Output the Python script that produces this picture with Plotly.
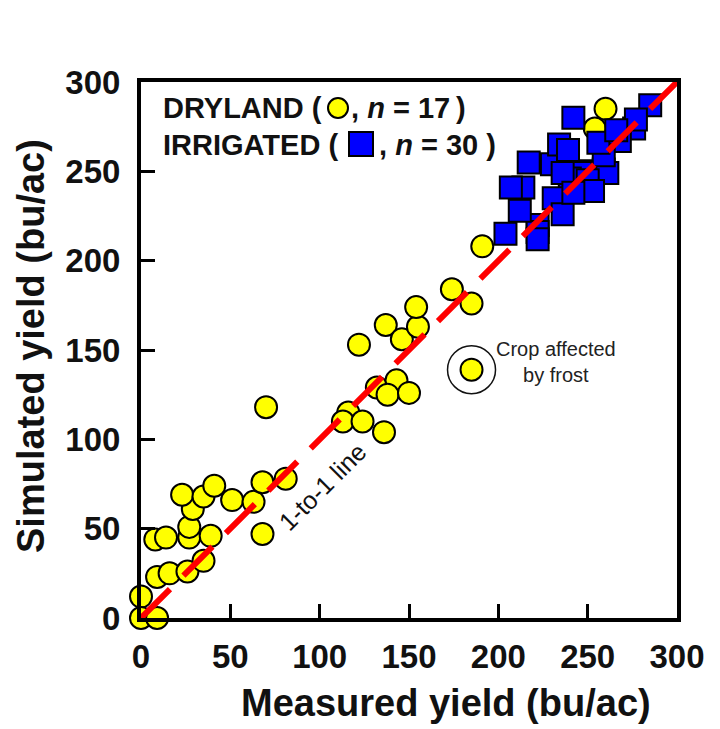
import plotly.graph_objects as go

# Values (bu/ac)
dry_measured = [0, 0, 9, 9, 16, 26, 35, 8, 14, 27, 39, 27, 29, 23, 35, 41, 51, 63, 68, 81, 68, 70,
                116, 113, 124, 136, 122, 137, 146, 155, 154, 174, 185, 132, 143, 138, 150, 191, 260, 254]
dry_simulated = [12, 0, 0, 23, 25, 26, 32, 44, 45, 45, 46, 51, 61, 69, 68, 74, 66, 65, 76, 78, 47, 118,
                 115, 110, 110, 104, 153, 164, 156, 163, 174, 184, 176, 129, 133, 125, 126, 208, 285, 274]
frost_measured = [185]
frost_simulated = [139]
# listed back to front, the squares that are hidden most come first
irr_measured = [276, 268, 230, 234, 250, 259, 246, 261, 214, 222, 222, 240, 250,
                285, 277, 204, 222, 212, 207, 217, 242, 239, 236, 231, 236, 253, 242, 259, 256, 266]
irr_simulated = [274, 267, 254, 265, 250, 251, 249, 249, 241, 220, 216, 246, 245,
                 287, 279, 215, 212, 228, 241, 255, 280, 262, 249, 235, 226, 239, 238, 259, 266, 273]
line_ends = [0, 300]
tick_vals = [0, 50, 100, 150, 200, 250, 300]

W, H = 720, 729
# the page puts the figure 8px in from the corner, so the frame is given relative to that
PAGE = 8
L, R, T, B = 141 - PAGE, 677 - PAGE, 82 - PAGE, 618 - PAGE
FONT = "Liberation Sans"


def px(x):
    return (x - PAGE - L) / (R - L)


def py(y):
    return (B - (y - PAGE)) / (B - T)


fig = go.Figure()

# dryland points
fig.add_trace(go.Scatter(
    x=dry_measured + frost_measured,
    y=dry_simulated + frost_simulated,
    mode='markers',
    marker=dict(symbol='circle', size=22, color='#ffff00', line=dict(color='black', width=2)),
    cliponaxis=False,
))
# ring around the frost point
fig.add_trace(go.Scatter(
    x=frost_measured,
    y=frost_simulated,
    mode='markers',
    marker=dict(symbol='circle-open', size=48, color='#111111', line=dict(color='#111111', width=1.5)),
))
# irrigated points
fig.add_trace(go.Scatter(
    x=irr_measured,
    y=irr_simulated,
    mode='markers',
    marker=dict(symbol='square', size=22, color='#0000ff', line=dict(color='black', width=2)),
    cliponaxis=False,
))
# 1-to-1 line
fig.add_trace(go.Scatter(
    x=line_ends,
    y=line_ends,
    mode='lines',
    line=dict(color='#ff0000', width=6, dash='41px,19px'),
    cliponaxis=False,
))


def label(text, x, y, size=29, bold=True, angle=0, anchor='left', color='#111111'):
    fig.add_annotation(
        text=f"<b>{text}</b>" if bold else text,
        xref='paper', yref='paper', x=px(x), y=py(y),
        xanchor=anchor, yanchor='middle', showarrow=False, textangle=angle,
        font=dict(family=FONT, size=size, color=color),
    )


# legend inside the frame
label("DRYLAND (", 161, 108)
label(", <i>n</i> = 17\u2009)", 349, 108)
label("IRRIGATED (", 161, 145)
label(", <i>n</i> = 30 )", 377, 145)
fig.add_shape(type='circle', xref='paper', yref='paper',
              x0=px(328), x1=px(348), y0=py(118), y1=py(98),
              fillcolor='#ffff00', line=dict(color='black', width=2))
fig.add_shape(type='rect', xref='paper', yref='paper',
              x0=px(349), x1=px(373), y0=py(156), y1=py(132),
              fillcolor='#0000ff', line=dict(color='black', width=2))

label("1-to-1 line", 322, 487, size=25, bold=False, angle=-45, anchor='center')
label("Crop affected<br>by frost", 556, 362, size=20, bold=False, anchor='center', color='#222222')

# axis titles sit off-centre in the reference, so they are placed by hand
label("Measured yield (bu/ac)", 446, 703, size=38, anchor='center')
label("Simulated yield (bu/ac)", 31, 346, size=38, angle=-90, anchor='center')

axis_style = dict(
    range=[0, 300],
    tickvals=tick_vals,
    ticks='inside',
    ticklen=14,
    tickwidth=3,
    tickcolor='black',
    showline=True,
    linecolor='black',
    linewidth=4,
    mirror=True,
    showgrid=False,
    zeroline=False,
    tickfont=dict(family=FONT, size=33, color='#111111', weight='bold'),
)

fig.update_layout(
    width=W,
    height=H,
    margin=dict(l=L, r=W - R, t=T, b=H - B),
    paper_bgcolor='white',
    plot_bgcolor='white',
    showlegend=False,
    font=dict(family=FONT),
    xaxis=dict(axis_style, ticklabelstandoff=6),
    yaxis=dict(axis_style, ticklabelstandoff=10),
)

fig.write_html("out.html")
